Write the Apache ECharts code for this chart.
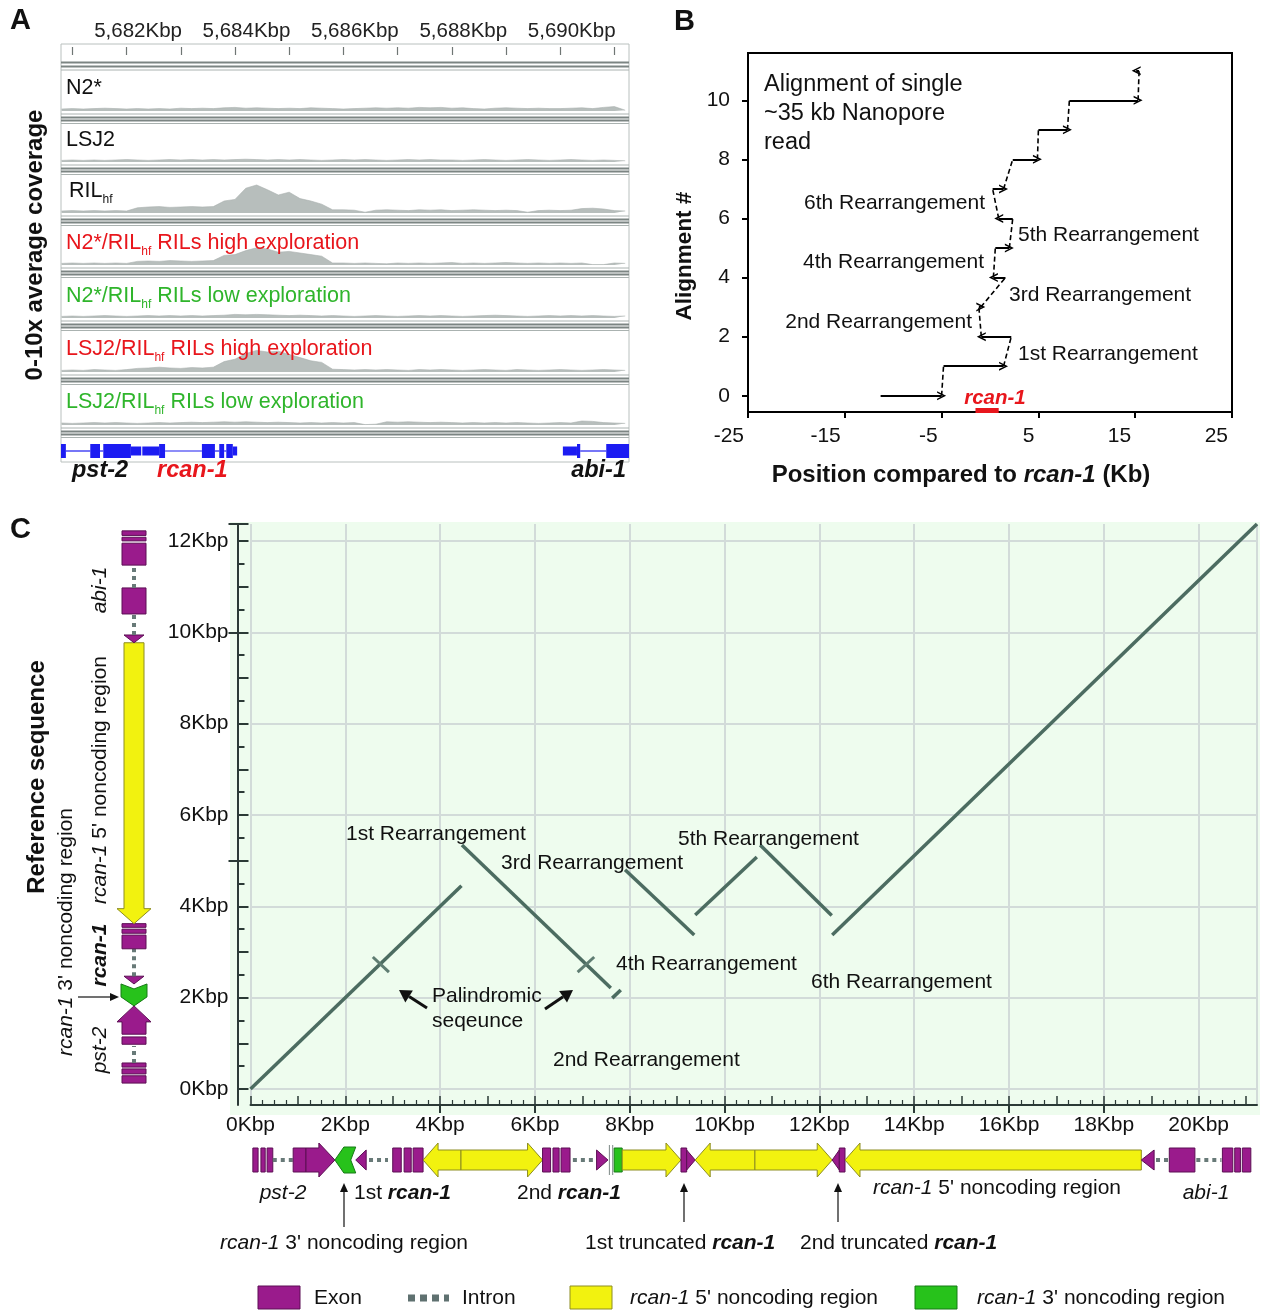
<!DOCTYPE html>
<html>
<head>
<meta charset="utf-8">
<script src="https://cdn.jsdelivr.net/npm/echarts@6/dist/echarts.min.js"></script>
<style>
  html, body { margin: 0; padding: 0; background: #fff; }
  #chart { width: 1267px; height: 1310px; }
</style>
</head>
<body>
<div id="chart"></div>
<script>
// ---------- panel A : coverage tracks (0-10x), bins of 0.2 kbp ----------
const aRange = [5680.79, 5691.27];
const rulerTicks = [5681, 5682, 5683, 5684, 5685, 5686, 5687, 5688, 5689, 5690, 5691];
const rulerLabels = [5682, 5684, 5686, 5688, 5690];
const covStart = 5680.8;
const covStep = 0.2;
const covN2 = [0.5,0.6,0.5,0.6,0.7,0.6,0.5,0.6,0.5,0.6, 0.5,0.7,0.6,0.7,0.6,0.8,0.9,0.7,0.8,0.7,
  0.6,0.7,0.6,0.8,0.7,0.6,0.5,0.6,0.7,0.8, 0.7,0.8,0.7,0.9,0.8,0.9,0.7,0.8,0.6,0.5,
  0.7,0.8,0.7,0.6,0.7,0.6,0.6,0.7,0.8,0.6, 0.9,1.1,0.2];
const covLSJ2 = [0.4,0.5,0.4,0.5,0.4,0.5,0.6,0.5,0.4,0.5, 0.6,0.5,0.6,0.5,0.6,0.5,0.6,0.7,0.6,0.5,
  0.6,0.5,0.6,0.5,0.4,0.5,0.6,0.5,0.6,0.5, 0.4,0.5,0.6,0.5,0.6,0.5,0.5,0.4,0.5,0.6,
  0.5,0.4,0.5,0.6,0.5,0.4,0.5,0.6,0.5,0.4, 0.5,0.4,0.3];
const covRIL = [0.5,0.6,0.5,0.6,0.5,0.6,0.5,
  1.3,1.5,1.6,1.4,1.5,1.6,1.5,1.6,
  3.0,3.4,6.2,7.0,5.8,4.5,5.2,3.6,3.0,2.2,0.8,
  0.8,0.7,0.2,0.7,0.8,0.7,0.6,0.8,0.7,0.8, 0.6,0.7,0.8,0.7,0.6,0.7,0.6,0.2,0.6,0.7,
  0.6,0.7,1.1,1.2,1.0,0.6,0.5];
const covN2High = [0.4,0.5,0.4,0.5,0.4,0.5,0.4,
  0.9,1.0,0.9,1.1,1.0,0.9,1.0,1.1,
  2.4,2.6,3.6,4.3,4.0,3.2,3.4,3.0,2.6,2.2,0.5,
  0.5,0.4,0.5,0.4,0.3,0.5,0.4,0.5,0.4,0.5, 0.6,0.4,0.5,0.4,0.5,0.6,0.5,0.4,0.5,0.4,
  0.5,0.4,0.5,0.1,0.1,0.5,0.4];
const covN2Low = [0.4,0.5,0.4,0.5,0.6,0.5,0.4,0.5,0.6,0.5, 0.6,0.5,0.6,0.5,0.6,0.7,0.9,0.8,0.9,0.8,
  0.7,0.6,0.7,0.6,0.5,0.6,0.5,0.4,0.5,0.6, 0.5,0.4,0.5,0.6,0.5,0.6,0.5,0.4,0.5,0.6,
  0.7,0.6,0.5,0.4,0.5,0.6,0.5,0.6,0.5,0.6, 0.5,0.4,0.5];
const covLSJ2High = [0.4,0.5,0.4,0.6,0.5,0.4,0.6,
  0.9,1.0,1.2,1.0,0.9,1.1,1.0,1.2,
  2.6,3.2,4.6,5.4,5.0,5.2,4.4,3.6,2.8,2.4,0.7,
  0.6,0.5,0.6,0.5,0.6,0.5,0.4,0.6,0.5,0.6, 0.5,0.4,0.5,0.6,0.5,0.4,0.6,0.5,0.4,0.5,
  0.6,0.5,0.4,0.5,0.6,0.5,0.4];
const covLSJ2Low = [0.5,0.4,0.5,0.6,0.5,0.6,0.5,0.4,0.5,0.6, 0.5,0.6,0.7,0.6,0.7,0.8,0.7,0.8,0.7,0.6,
  0.7,0.6,0.5,0.6,0.5,0.6,0.5,0.6,0.1,0.2, 0.8,0.7,0.8,0.7,0.6,0.7,0.6,0.5,0.6,0.5,
  0.6,0.5,0.6,0.5,0.4,0.5,0.6,0.5,1.0,0.9, 0.6,0.5,0.4];
// gene models under the tracks: [start kbp, end kbp, E exon / U utr / I intron]
const geneA = [
  [5680.79,5680.88,'E'],[5680.88,5681.33,'I'],[5681.33,5681.51,'E'],[5681.51,5681.57,'I'],
  [5681.57,5682.08,'E'],[5682.08,5682.27,'U'],
  [5682.29,5682.6,'U'],[5682.6,5682.71,'E'],[5682.71,5683.39,'I'],[5683.39,5683.63,'E'],
  [5683.63,5683.71,'I'],[5683.71,5683.8,'E'],[5683.8,5683.84,'I'],[5683.84,5683.96,'E'],[5683.96,5684.04,'U'],
  [5690.05,5690.31,'U'],[5690.31,5690.37,'E'],[5690.37,5690.85,'I'],[5690.85,5691.27,'E']
];

// ---------- panel B : alignment of one read, [start kb, end kb], row = alignment # ----------
const alignRows = [
  [-11.3, -5.0], [-4.8, 1.4], [2.2, -0.9], [-1.15, -0.95], [1.6, 0.35], [0.55, 2.0],
  [2.35, 0.9], [0.27, 1.4], [2.35, 4.9], [5.0, 8.0], [8.2, 15.3], [15.4, 15.1]
];
const rcanSpan = [-1.5, 0.9];
const bXTicks = [-25, -15, -5, 5, 15, 25];
const bYTicks = [0, 2, 4, 6, 8, 10];

// ---------- panel C : dot plot, [read x1, ref y1, read x2, ref y2] in kbp ----------
const dotSegments = [
  [0, 0, 4.45, 4.45],
  [4.46, 5.34, 7.6, 2.21],
  [7.63, 1.99, 7.81, 2.17],
  [7.9, 4.8, 9.36, 3.37],
  [9.38, 3.81, 10.68, 5.08],
  [10.75, 5.34, 12.26, 3.8],
  [12.27, 3.37, 21.23, 12.37]
];
const palindromeMarks = [
  [2.58, 2.89, 2.92, 2.56],
  [6.9, 2.56, 7.25, 2.89]
];
const cXLabels = [0, 2, 4, 6, 8, 10, 12, 14, 16, 18, 20];
const cYLabels = [0, 2, 4, 6, 8, 10, 12];
// features: [start, end, kind, dir]  E exon, I intron, A exon arrow, T exon tip, Y 5' region, G 3' region, B break
const refLeft = [
  [0.13,0.29,'E'],[0.33,0.44,'E'],[0.48,0.57,'E'],[0.57,0.94,'I'],[0.98,1.14,'E'],[1.2,1.82,'A',1],
  [1.82,2.3,'G',-1],[2.3,2.47,'T',-1],[2.47,3.07,'I'],[3.07,3.37,'E'],[3.41,3.5,'E'],[3.54,3.62,'E'],
  [3.62,9.77,'Y',-1],[9.77,9.94,'T',-1],[9.94,10.4,'I'],[10.4,10.97,'E'],[10.97,11.47,'I'],
  [11.47,11.95,'E'],[12.0,12.08,'E'],[12.12,12.22,'E']
];
const readBottom = [
  [0.05,0.16,'E'],[0.22,0.31,'E'],[0.35,0.47,'E'],[0.47,0.9,'I'],[0.9,1.17,'E'],[1.17,1.78,'A',1],
  [1.78,2.22,'G',-1],[2.22,2.44,'T',-1],[2.5,2.9,'I'],[3.0,3.18,'E'],[3.24,3.39,'E'],[3.43,3.64,'E'],
  [3.64,4.44,'Y',-1],[4.44,6.16,'Y',1],[6.16,6.33,'E'],[6.38,6.51,'E'],[6.55,6.74,'E'],[6.8,7.28,'I'],
  [7.3,7.54,'T',1],[7.57,7.64,'B'],[7.67,7.84,'G',0],[7.84,9.08,'Y',1],[9.08,9.2,'E'],[9.2,9.38,'T',1],
  [9.38,10.64,'Y',-1],[10.64,12.27,'Y',1],[12.27,12.42,'T',-1],[12.42,12.54,'E'],[12.54,18.79,'Y',-1],
  [18.79,19.06,'T',-1],[19.1,19.36,'I'],[19.38,19.92,'E'],[19.95,20.48,'I'],
  [20.5,20.72,'E'],[20.76,20.88,'E'],[20.92,21.1,'E']
];

const F = 'Liberation Sans, Arial, Helvetica, sans-serif';
const PURPLE = '#9a1b8c', PURPLE_D = '#5c0f54';
const YEL = '#f2f20f', YEL_D = '#8d8d22';
const GRN = '#27c21b', GRN_D = '#177a16';
const INTRON = '#687a78', BLUE = '#1c1cf2', AX = '#2b3a36';
const RED = '#e8161c', GREEN_T = '#2fb52b';

const chart = echarts.init(document.getElementById('chart'));
const grids = [], xAxes = [], yAxes = [], series = [], g = [];
function addGrid(o) { grids.push(o); return grids.length - 1; }
function addX(o) { xAxes.push(o); return xAxes.length - 1; }
function addY(o) { yAxes.push(o); return yAxes.length - 1; }

// text helpers
function T(x, y, text, o) {
  o = o || {};
  const st = {
    text: text, fill: o.color || '#111', fontSize: o.size || 21, fontFamily: F,
    fontWeight: o.bold ? 'bold' : 'normal', fontStyle: o.italic ? 'italic' : 'normal',
    align: o.align || 'left', verticalAlign: 'middle',
    textAlign: o.align || 'left', textVerticalAlign: 'middle'
  };
  if (o.rich) st.rich = o.rich;
  g.push({ type: 'text', x: x, y: y, z: 50, rotation: o.rot || 0, style: st });
}
function rich(size, color, bold) {
  const base = { fontSize: size, fontFamily: F, fill: color, fontWeight: bold ? 'bold' : 'normal' };
  return {
    n: base,
    i: Object.assign({}, base, { fontStyle: 'italic' }),
    bi: Object.assign({}, base, { fontStyle: 'italic', fontWeight: 'bold' }),
    s: Object.assign({}, base, { fontSize: 12, padding: [17, 0, 0, 0] })
  };
}
function L(x1, y1, x2, y2, color, w, dash) {
  const st = { stroke: color, lineWidth: w };
  if (dash) st.lineDash = dash;
  g.push({ type: 'line', z: 50, shape: { x1, y1, x2, y2 }, style: st });
}
function arrow(x1, y1, x2, y2, w, hl, hw, color) {
  const dx = x2 - x1, dy = y2 - y1, len = Math.hypot(dx, dy), ux = dx / len, uy = dy / len;
  const bx = x2 - ux * hl, by = y2 - uy * hl;
  L(x1, y1, bx, by, color, w);
  g.push({ type: 'polygon', z: 50, shape: { points: [[x2, y2], [bx - uy * hw, by + ux * hw], [bx + uy * hw, by - ux * hw]] }, style: { fill: color } });
}

// ================= PANEL A =================
const covTracks = [covN2, covLSJ2, covRIL, covN2High, covN2Low, covLSJ2High, covLSJ2Low];
const trackBase = [111, 162, 213, 265, 318, 372, 425];

// ruler
const gRuler = addGrid({ left: 61, width: 568, top: 54, height: 1 });
addX({
  gridIndex: gRuler, type: 'value', min: aRange[0], max: aRange[1], position: 'top',
  axisLine: { show: false },
  axisTick: { customValues: rulerTicks, length: 8, lineStyle: { color: '#6f7674', width: 1.2 } },
  axisLabel: {
    customValues: rulerLabels, fontSize: 20.5, color: '#222', margin: 12, fontFamily: F,
    padding: [0, 0, 0, 23],
    formatter: v => String(v).replace(/(\d)(\d{3})$/, '$1,$2') + 'Kbp'
  },
  splitLine: { show: false }
});
addY({ gridIndex: gRuler, type: 'value', show: false });

covTracks.forEach((vals, i) => {
  const gi = addGrid({ left: 61, width: 568, top: trackBase[i] - 40, height: 40 });
  const xi = addX({ gridIndex: gi, type: 'value', min: aRange[0], max: aRange[1], show: false });
  const yi = addY({ gridIndex: gi, type: 'value', min: 0, max: 10, show: false });
  series.push({
    type: 'line', xAxisIndex: xi, yAxisIndex: yi, symbol: 'none', z: 3,
    data: vals.map((v, j) => [covStart + j * covStep, v]),
    lineStyle: { width: 0.6, color: '#a9b0ae' },
    areaStyle: { color: '#b7bebc', opacity: 1 }
  });
});

// gene models
const gGeneA = addGrid({ left: 61, width: 568, top: 441, height: 20 });
const xGeneA = addX({ gridIndex: gGeneA, type: 'value', min: aRange[0], max: aRange[1], show: false });
const yGeneA = addY({ gridIndex: gGeneA, type: 'value', min: -1, max: 1, show: false });
series.push({
  type: 'custom', xAxisIndex: xGeneA, yAxisIndex: yGeneA, z: 4,
  data: geneA.map(f => [f[0], 0]),
  renderItem: function (params, api) {
    const f = geneA[params.dataIndex];
    const p1 = api.coord([f[0], 0]), p2 = api.coord([f[1], 0]);
    const cy = p1[1];
    if (f[2] === 'I') {
      return { type: 'line', shape: { x1: p1[0], y1: cy, x2: p2[0], y2: cy }, style: { stroke: BLUE, lineWidth: 1.2 } };
    }
    const h = f[2] === 'E' ? 7 : 4.5;
    return { type: 'rect', shape: { x: p1[0], y: cy - h, width: p2[0] - p1[0], height: 2 * h }, style: { fill: BLUE } };
  }
});

// track chrome
g.push({ type: 'rect', z: 1, shape: { x: 61, y: 44, width: 568, height: 418 }, style: { fill: 'none', stroke: '#b9c0be', lineWidth: 1 } });
L(61, 62.5, 629, 62.5, '#7c8583', 2);
L(61, 66.5, 629, 66.5, '#7c8583', 2);
L(61, 70, 629, 70, '#aab2b0', 1);
trackBase.forEach(b => {
  L(61, b + 3, 629, b + 3, '#aab2b0', 1);
  L(61, b + 6.5, 629, b + 6.5, '#7c8583', 2);
  L(61, b + 9.5, 629, b + 9.5, '#7c8583', 2);
  L(61, b + 12.5, 629, b + 12.5, '#aab2b0', 1);
});

// track labels
T(66, 88, 'N2*', { size: 21.5 });
T(66, 140, 'LSJ2', { size: 21.5 });
T(69, 191, '{n|RIL}{s|hf}', { rich: rich(21.5, '#111') });
T(66, 243, '{n|N2*/RIL}{s|hf}{n| RILs high exploration}', { rich: rich(21.5, RED) });
T(66, 296, '{n|N2*/RIL}{s|hf}{n| RILs low exploration}', { rich: rich(21.5, GREEN_T) });
T(66, 349, '{n|LSJ2/RIL}{s|hf}{n| RILs high exploration}', { rich: rich(21.5, RED) });
T(66, 402, '{n|LSJ2/RIL}{s|hf}{n| RILs low exploration}', { rich: rich(21.5, GREEN_T) });
T(72, 471, 'pst-2', { bold: true, italic: true, size: 23.5 });
T(157, 471, 'rcan-1', { bold: true, italic: true, size: 23.5, color: RED });
T(626, 471, 'abi-1', { bold: true, italic: true, size: 23.5, align: 'right' });
T(35, 245, '0-10x average coverage', { bold: true, size: 24, align: 'center', rot: Math.PI / 2 });
T(10, 21, 'A', { bold: true, size: 29 });

// ================= PANEL B =================
const gB = addGrid({ left: 748, width: 484, top: 53, height: 359, show: true, borderColor: '#000', borderWidth: 2 });
const xB = addX({
  gridIndex: gB, type: 'value', min: -25, max: 25,
  axisLine: { onZero: false, lineStyle: { color: '#000', width: 2 } },
  axisTick: { customValues: bXTicks, length: 6, lineStyle: { color: '#000', width: 2 } },
  axisLabel: { customValues: bXTicks, align: 'right', fontSize: 21, color: '#111', margin: 14, fontFamily: F, padding: [0, 4, 0, 0] },
  splitLine: { show: false }
});
const yB = addY({
  gridIndex: gB, type: 'value', min: -0.55, max: 11.6,
  axisLine: { onZero: false, lineStyle: { color: '#000', width: 2 } },
  axisTick: { customValues: bYTicks, length: 6, lineStyle: { color: '#000', width: 2 } },
  axisLabel: { customValues: bYTicks, fontSize: 21, color: '#111', margin: 18, fontFamily: F },
  splitLine: { show: false }
});
const chevron = 'path://M0,10 L5,0 L10,10 L8.2,10 L5,3.6 L1.8,10 Z';
series.push({
  type: 'lines', coordinateSystem: 'cartesian2d', xAxisIndex: xB, yAxisIndex: yB, z: 5,
  data: alignRows.map((r, i) => ({ coords: [[r[0], i], [r[1], i]] })),
  symbol: ['none', chevron], symbolSize: 9,
  lineStyle: { color: '#000', width: 2, opacity: 1 }
});
series.push({
  type: 'lines', coordinateSystem: 'cartesian2d', xAxisIndex: xB, yAxisIndex: yB, z: 5,
  data: alignRows.slice(0, -1).map((r, i) => ({ coords: [[r[1], i], [alignRows[i + 1][0], i + 1]] })),
  symbol: 'none',
  lineStyle: { color: '#000', width: 1.6, type: [5, 3], opacity: 1 }
});
series.push({
  type: 'lines', coordinateSystem: 'cartesian2d', xAxisIndex: xB, yAxisIndex: yB, z: 6,
  data: [{ coords: [[rcanSpan[0], -0.5], [rcanSpan[1], -0.5]] }],
  symbol: 'none',
  lineStyle: { color: RED, width: 5, opacity: 1 }
});
T(674, 22, 'B', { bold: true, size: 29 });
T(764, 85, 'Alignment of single', { size: 23.5 });
T(764, 114, '~35 kb Nanopore', { size: 23.5 });
T(764, 143, 'read', { size: 23.5 });
T(1018, 354, '1st Rearrangement');
T(972, 322, '2nd Rearrangement', { align: 'right' });
T(1009, 295, '3rd Rearrangement');
T(984, 262, '4th Rearrangement', { align: 'right' });
T(1018, 235, '5th Rearrangement');
T(985, 203, '6th Rearrangement', { align: 'right' });
T(995, 398, 'rcan-1', { bold: true, italic: true, size: 20.5, color: RED, align: 'center' });
T(961, 475, '{n|Position compared to }{bi|rcan-1}{n| (Kb)}', { align: 'center', rich: rich(24, '#111', true) });
T(685, 256, 'Alignment #', { bold: true, size: 22.5, align: 'center', rot: Math.PI / 2 });

// ================= PANEL C =================
const cXMax = 21.23, cYMin = -0.35, cYMax = 12.37;
const gC = addGrid({ left: 250.5, right: 10, top: 524, bottom: 205 });
const intX = [], quarterX = [], intY = [], halfY = [];
for (let v = 0; v <= 21; v++) intX.push(v);
for (let v = 0.25; v < cXMax; v += 0.25) if (v % 1 !== 0) quarterX.push(v);
for (let v = 0; v <= 12; v++) intY.push(v);
intY.push(cYMax);
for (let v = 0.5; v < 12.3; v += 1) halfY.push(v);
const xCbase = { gridIndex: gC, type: 'value', min: 0, max: cXMax, position: 'bottom', splitLine: { show: false } };
const xC = addX(Object.assign({}, xCbase, {
  axisLine: { onZero: false, lineStyle: { color: AX, width: 2 } },
  axisTick: { inside: true, length: 9, customValues: intX, lineStyle: { color: AX, width: 1.5 } },
  axisLabel: { customValues: cXLabels, formatter: v => v + 'Kbp', fontSize: 21, color: '#111', margin: 10, fontFamily: F }
}));
addX(Object.assign({}, xCbase, {
  axisLine: { show: false, onZero: false },
  axisTick: { inside: true, length: 5, customValues: quarterX, lineStyle: { color: AX, width: 1.2 } },
  axisLabel: { show: false }
}));
addX(Object.assign({}, xCbase, {
  axisLine: { show: false, onZero: false },
  axisTick: { length: 8, customValues: [4, 6, 8, 10, 12, 14, 16, 18], lineStyle: { color: AX, width: 2 } },
  axisLabel: { show: false }
}));
addX(Object.assign({}, xCbase, {
  interval: 2,
  axisLine: { show: false, onZero: false }, axisTick: { show: false }, axisLabel: { show: false },
  splitLine: { show: true, lineStyle: { color: '#d2dbd9', width: 2 } }
}));
const yCbase = { gridIndex: gC, type: 'value', min: cYMin, max: cYMax, position: 'left', offset: 13, splitLine: { show: false } };
const yC = addY(Object.assign({}, yCbase, {
  axisLine: { onZero: false, lineStyle: { color: AX, width: 2 } },
  axisTick: { inside: true, length: 11, customValues: intY, lineStyle: { color: AX, width: 2 } },
  axisLabel: { customValues: cYLabels, formatter: v => v + 'Kbp', fontSize: 21, color: '#111', margin: 9, fontFamily: F }
}));
addY(Object.assign({}, yCbase, {
  axisLine: { show: false, onZero: false },
  axisTick: { inside: true, length: 7, customValues: halfY, lineStyle: { color: AX, width: 2 } },
  axisLabel: { show: false }
}));
addY(Object.assign({}, yCbase, {
  axisLine: { show: false, onZero: false },
  axisTick: { length: 9, customValues: [5, 10, cYMax], lineStyle: { color: AX, width: 2 } },
  axisLabel: { show: false }
}));
addY(Object.assign({}, yCbase, {
  offset: 0,
  axisLine: { show: false, onZero: false },
  axisTick: { show: false, customValues: cYLabels }, axisLabel: { show: false },
  splitLine: { show: true, lineStyle: { color: '#d2dbd9', width: 2 } }
}));
g.push({ type: 'rect', z: -10, shape: { x: 230, y: 522, width: 1030, height: 593 }, style: { fill: '#eefcee' } });

series.push({
  type: 'lines', coordinateSystem: 'cartesian2d', xAxisIndex: xC, yAxisIndex: yC, z: 5,
  data: dotSegments.map(s => ({ coords: [[s[0], s[1]], [s[2], s[3]]] })),
  symbol: 'none', lineStyle: { color: '#4c6c61', width: 3.5, opacity: 1 }
});
series.push({
  type: 'lines', coordinateSystem: 'cartesian2d', xAxisIndex: xC, yAxisIndex: yC, z: 5,
  data: palindromeMarks.map(s => ({ coords: [[s[0], s[1]], [s[2], s[3]]] })),
  symbol: 'none', lineStyle: { color: '#5f7d72', width: 3, opacity: 1 }
});

// gene diagrams
function poly(points, fill, stroke) {
  return { type: 'polygon', shape: { points: points }, style: { fill: fill, stroke: stroke, lineWidth: 1 } };
}
function featureRenderer(list, vertical) {
  return function (params, api) {
    const f = list[params.dataIndex];
    const kind = f[2], dir = f[3] || 0;
    const o = api.coord([0, 0]);
    const cen = vertical ? o[0] : o[1];
    const a1 = vertical ? api.coord([0, f[0]])[1] : api.coord([f[0], 0])[0];
    const a2 = vertical ? api.coord([0, f[1]])[1] : api.coord([f[1], 0])[0];
    const P = (a, c) => vertical ? [cen + c, a] : [a, cen + c];
    const tip = dir >= 0 ? a2 : a1, base = dir >= 0 ? a1 : a2;
    const sg = Math.sign(tip - base) || 1;
    if (kind === 'E') return poly([P(a1, -12), P(a2, -12), P(a2, 12), P(a1, 12)], PURPLE, PURPLE_D);
    if (kind === 'I') {
      const q1 = P(a1, 0), q2 = P(a2, 0);
      return { type: 'line', shape: { x1: q1[0], y1: q1[1], x2: q2[0], y2: q2[1] }, style: { stroke: INTRON, lineWidth: 4, lineDash: [4, 4] } };
    }
    if (kind === 'T') return poly([P(base, -10), P(tip, 0), P(base, 10)], PURPLE, PURPLE_D);
    if (kind === 'Y' || kind === 'A') {
      const bh = kind === 'Y' ? 10 : 12, hh = 17;
      const hl = Math.min(kind === 'Y' ? 15 : 16, Math.abs(tip - base));
      const n = tip - sg * hl;
      return poly([P(base, -bh), P(n, -bh), P(n, -hh), P(tip, 0), P(n, hh), P(n, bh), P(base, bh)],
        kind === 'Y' ? YEL : PURPLE, kind === 'Y' ? YEL_D : PURPLE_D);
    }
    if (kind === 'G') {
      if (!dir) return poly([P(a1, -12), P(a2, -12), P(a2, 12), P(a1, 12)], GRN, GRN_D);
      const hl = Math.min(9, Math.abs(tip - base) * 0.45);
      return poly([P(base, -13), P(tip - sg * hl, -13), P(tip, 0), P(tip - sg * hl, 13), P(base, 13), P(base + sg * 5, 0)], GRN, GRN_D);
    }
    const b1 = P(a1, -15), b2 = P(a1, 15), b3 = P(a2, -15), b4 = P(a2, 15);
    return {
      type: 'group', children: [
        { type: 'line', shape: { x1: b1[0], y1: b1[1], x2: b2[0], y2: b2[1] }, style: { stroke: '#7d8886', lineWidth: 1 } },
        { type: 'line', shape: { x1: b3[0], y1: b3[1], x2: b4[0], y2: b4[1] }, style: { stroke: '#7d8886', lineWidth: 1 } }
      ]
    };
  };
}
const gLeft = addGrid({ left: 114, width: 40, top: 524, bottom: 205 });
const xLeft = addX({ gridIndex: gLeft, type: 'value', min: -1, max: 1, show: false });
const yLeft = addY({ gridIndex: gLeft, type: 'value', min: cYMin, max: cYMax, show: false });
series.push({
  type: 'custom', xAxisIndex: xLeft, yAxisIndex: yLeft, z: 4,
  data: refLeft.map(f => [0, f[0]]), renderItem: featureRenderer(refLeft, true)
});
const gBot = addGrid({ left: 250.5, right: 10, top: 1140, height: 40 });
const xBot = addX({ gridIndex: gBot, type: 'value', min: 0, max: cXMax, show: false });
const yBot = addY({ gridIndex: gBot, type: 'value', min: -1, max: 1, show: false });
series.push({
  type: 'custom', xAxisIndex: xBot, yAxisIndex: yBot, z: 4,
  data: readBottom.map(f => [f[0], 0]), renderItem: featureRenderer(readBottom, false)
});

// panel C text
T(10, 530, 'C', { bold: true, size: 29 });
T(346, 834, '1st Rearrangement');
T(501, 863, '3rd Rearrangement');
T(678, 839, '5th Rearrangement');
T(616, 964, '4th Rearrangement');
T(811, 982, '6th Rearrangement');
T(553, 1060, '2nd Rearrangement');
T(432, 996, 'Palindromic');
T(432, 1021, 'seqeunce');
arrow(427, 1008, 399, 990, 3, 12, 7, '#111');
arrow(545, 1009, 573, 990, 3, 12, 7, '#111');

T(37, 777, 'Reference sequence', { bold: true, size: 24, align: 'center', rot: Math.PI / 2 });
T(66, 932, "{i|rcan-1}{n| 3' noncoding region}", { align: 'center', rot: Math.PI / 2, rich: rich(21, '#111') });
T(100, 590, 'abi-1', { italic: true, align: 'center', rot: Math.PI / 2 });
T(100, 780, "{i|rcan-1}{n| 5' noncoding region}", { align: 'center', rot: Math.PI / 2, rich: rich(21, '#111') });
T(100, 955, 'rcan-1', { italic: true, bold: true, align: 'center', rot: Math.PI / 2 });
T(100, 1050, 'pst-2', { italic: true, align: 'center', rot: Math.PI / 2 });
arrow(78, 997, 119, 997, 1.2, 9, 4, '#111');

T(283, 1193, 'pst-2', { italic: true, align: 'center' });
T(354, 1193, '{n|1st }{bi|rcan-1}', { rich: rich(21, '#111') });
T(517, 1193, '{n|2nd }{bi|rcan-1}', { rich: rich(21, '#111') });
T(873, 1188, "{i|rcan-1}{n| 5' noncoding region}", { rich: rich(21, '#111') });
T(1206, 1193, 'abi-1', { italic: true, align: 'center' });
arrow(344, 1227, 344, 1183, 1.2, 9, 4, '#111');
arrow(684, 1222, 684, 1183, 1.2, 9, 4, '#111');
arrow(838, 1222, 838, 1183, 1.2, 9, 4, '#111');
T(220, 1243, "{i|rcan-1}{n| 3' noncoding region}", { rich: rich(21, '#111') });
T(585, 1243, '{n|1st truncated }{bi|rcan-1}', { rich: rich(21, '#111') });
T(800, 1243, '{n|2nd truncated }{bi|rcan-1}', { rich: rich(21, '#111') });

// legend
g.push({ type: 'rect', z: 50, shape: { x: 258, y: 1286, width: 42, height: 23 }, style: { fill: PURPLE, stroke: PURPLE_D } });
T(314, 1298, 'Exon');
L(408, 1298, 449, 1298, '#5f7170', 7, [7, 5]);
T(462, 1298, 'Intron');
g.push({ type: 'rect', z: 50, shape: { x: 570, y: 1286, width: 42, height: 23 }, style: { fill: YEL, stroke: YEL_D } });
T(630, 1298, "{i|rcan-1}{n| 5' noncoding region}", { rich: rich(21, '#111') });
g.push({ type: 'rect', z: 50, shape: { x: 915, y: 1286, width: 42, height: 23 }, style: { fill: GRN, stroke: GRN_D } });
T(977, 1298, "{i|rcan-1}{n| 3' noncoding region}", { rich: rich(21, '#111') });

chart.setOption({
  animation: false,
  backgroundColor: '#fff',
  textStyle: { fontFamily: F },
  grid: grids,
  xAxis: xAxes,
  yAxis: yAxes,
  series: series,
  graphic: g
});
</script>
</body>
</html>
